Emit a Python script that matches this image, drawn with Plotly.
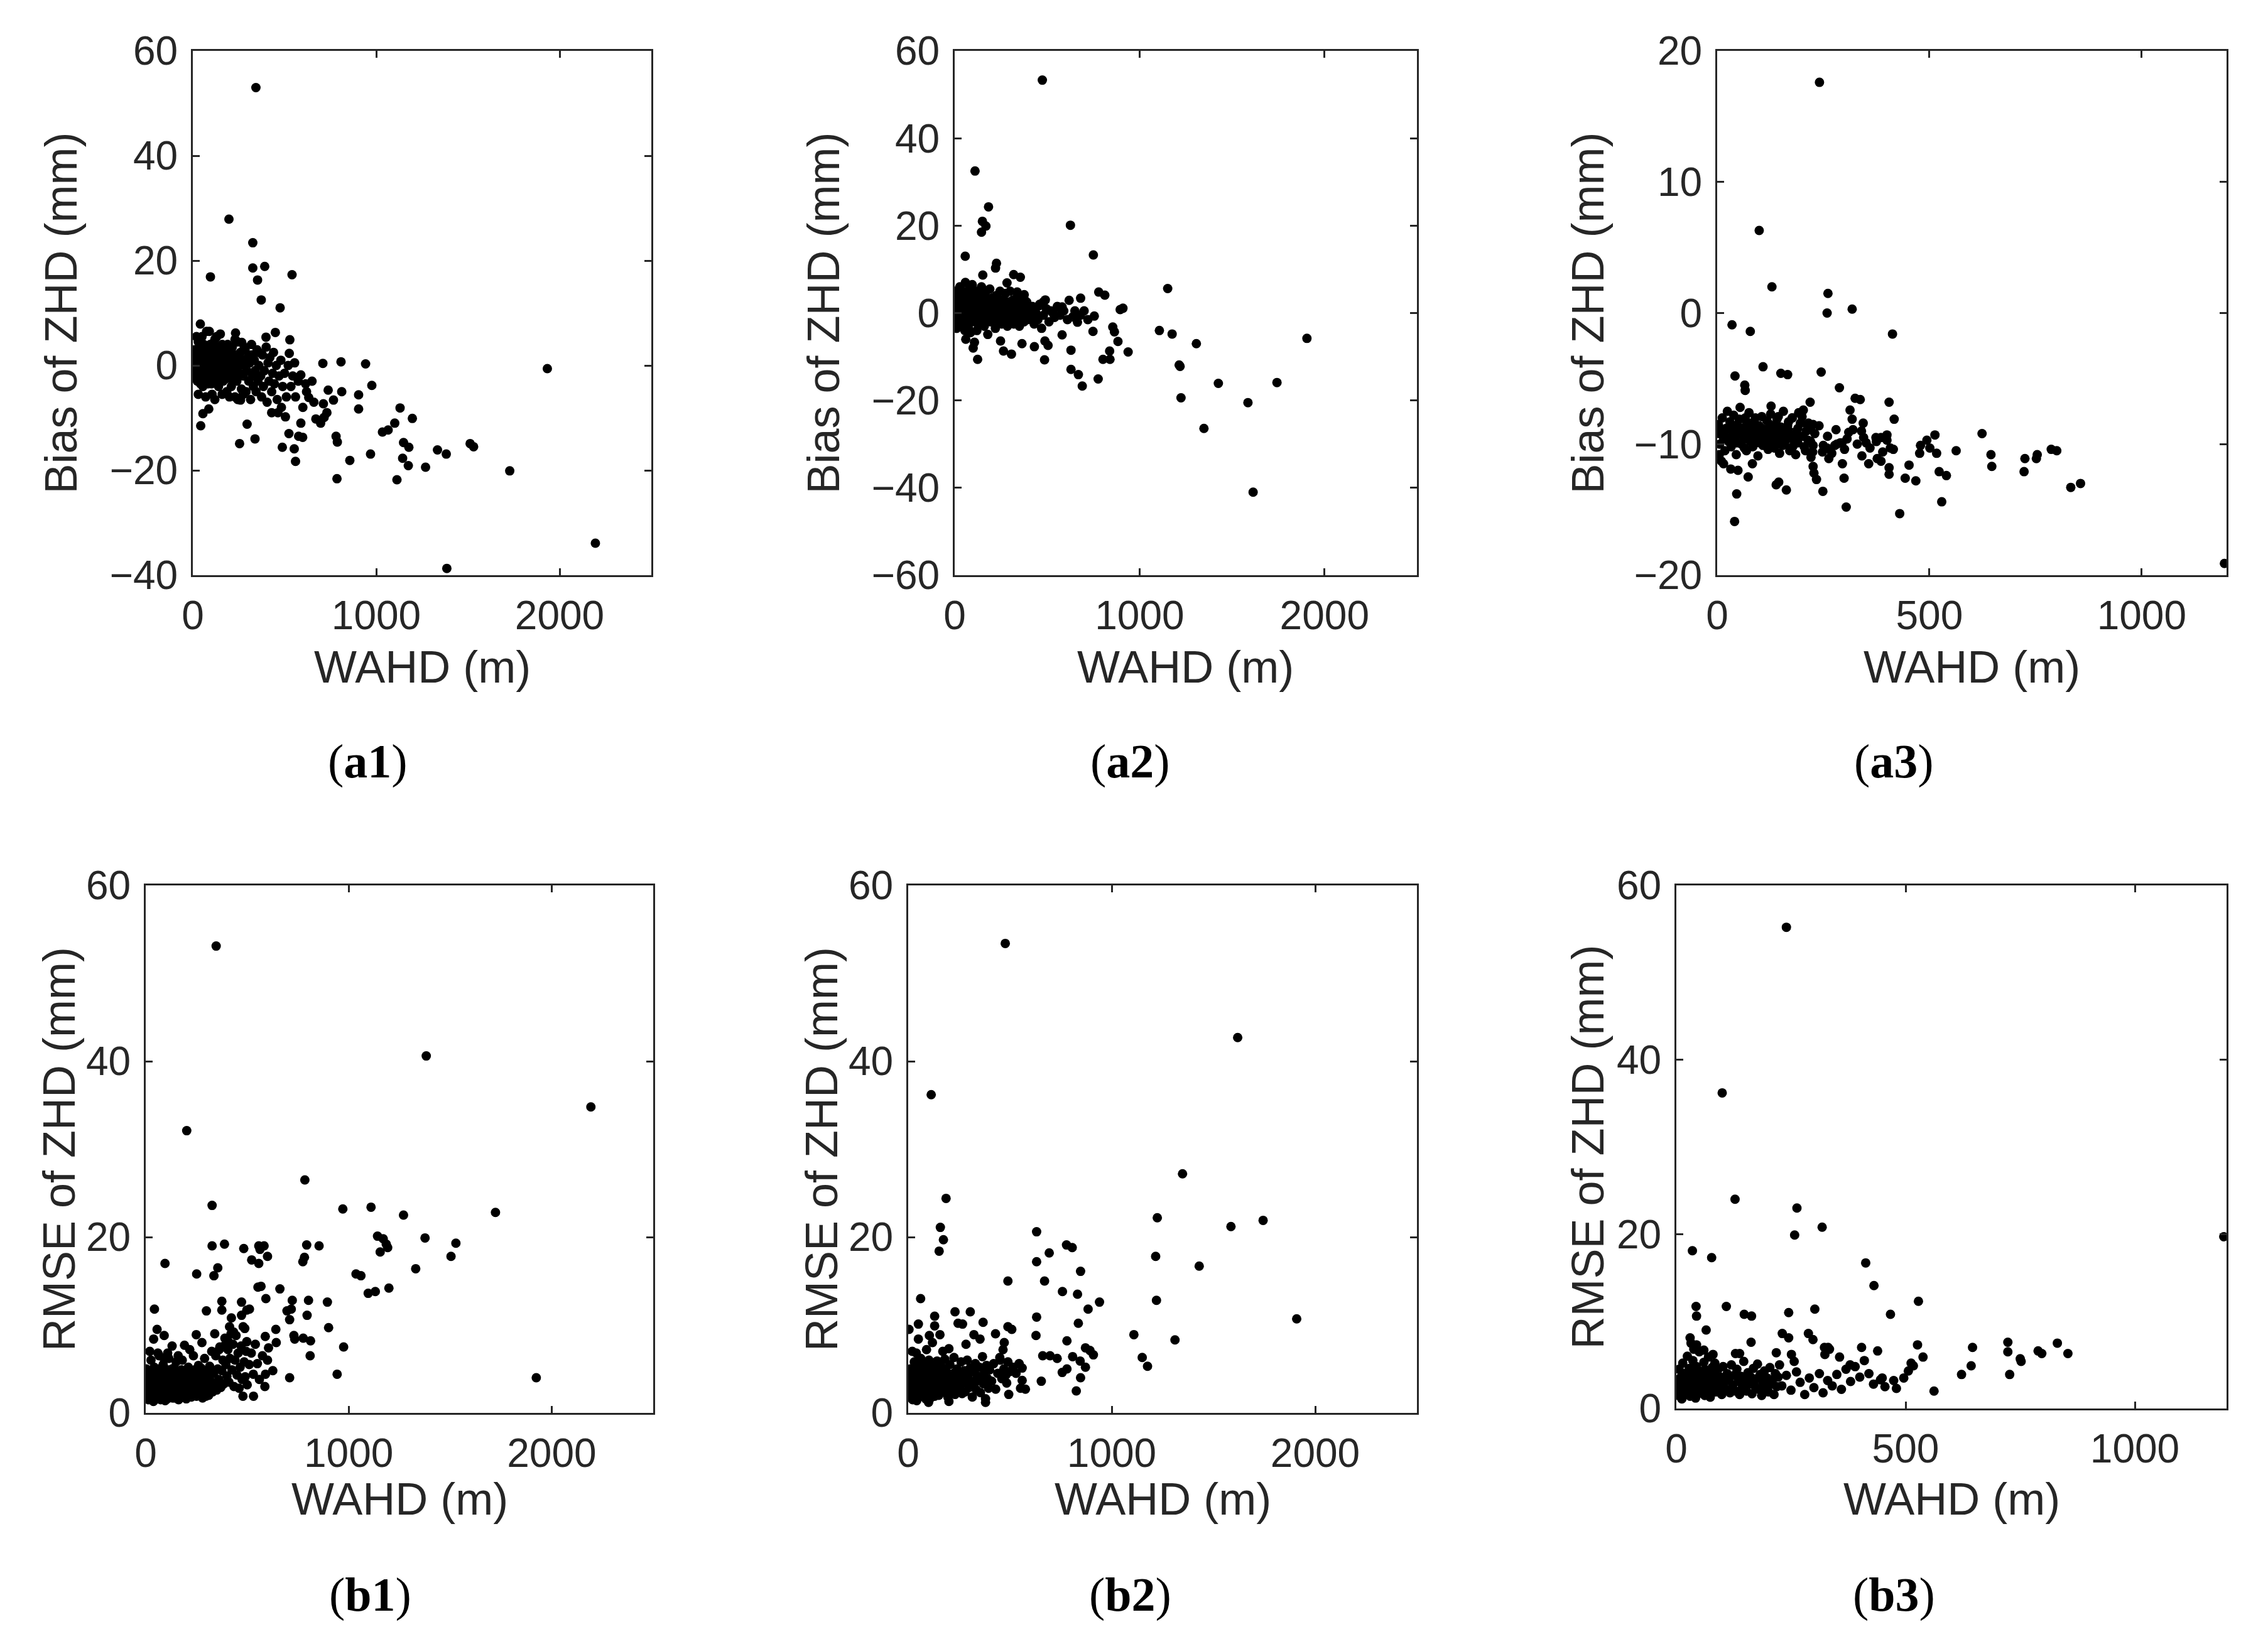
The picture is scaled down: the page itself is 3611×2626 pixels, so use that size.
import plotly.graph_objects as go

W, H = 3611, 2626
OFF = 8  # default page body margin, positions below are absolute picture pixels

# ---- data: (WAHD m, value mm) ----
a1_pts = [
    (344, 53), (197, 27.9), (327, 23.4), (327, 18.6), (392, 18.9), (353, 16.3), (96, 16.9), (541, 17.3),
    (373, 12.5), (476, 11.0), (41, 7.9), (233, 6.2), (450, 6.3), (399, 5.4), (529, 4.9), (267, 4.4),
    (709, 0.4), (808, 0.7), (942, 0.3), (1933, -0.6), (976, -3.8), (904, -5.6), (904, -8.3), (738, -4.7),
    (812, -5.0), (767, -6.6), (712, -7.3), (731, -9.0), (716, -9.9), (671, -10.2), (697, -11.0), (781, -13.5),
    (788, -14.6), (856, -18.1), (786, -21.6), (969, -16.9), (1034, -12.7), (1065, -12.3), (1101, -11.0),
    (1130, -8.1), (1197, -10.1), (1149, -14.7), (1178, -15.6), (1144, -17.7), (1175, -19.1), (1113, -21.8),
    (1269, -19.4), (1334, -16.1), (1382, -16.9), (1385, -38.7), (1512, -14.9), (1531, -15.5), (1728, -20.1),
    (2195, -33.9), (483, -8.0), (524, -13.0), (553, -15.9), (560, -18.3), (577, -13.5), (599, -13.7),
    (589, -11.0), (488, -15.6), (255, -14.9), (339, -14.0), (296, -11.2), (43, -11.5), (55, -9.2), (87, -8.3),
    (260, -6.6), (430, -9.0), (464, -9.0), (505, -9.8), (615, -3.5), (632, -6.1), (589, -1.8), (555, 0.5),
    (526, 2.3),
    (10, 3), (15, -1), (20, 1.5), (25, -3), (30, 4.5), (35, 0), (40, -2), (45, 2.5), (50, 5.5), (55, -4),
    (60, 1), (65, -1.5), (70, 3.5), (75, 6.5), (80, -0.5), (85, 2), (90, -3), (95, 4), (100, 0.5), (105, -5.5),
    (110, 2.5), (115, -1), (120, 5), (125, -2.5), (130, 1), (135, 3), (140, -4), (145, 0), (150, 2), (155, -1.5),
    (160, 4), (165, -3), (170, 1.5), (175, -0.5), (180, 3), (185, -5), (190, 0.5), (195, 2), (200, -2), (205, 1),
    (210, -4), (215, 3.5), (220, -1), (225, 0.5), (230, -6), (235, 2), (240, -3), (245, 4.5), (250, 0),
    (255, -1.5), (260, 2.5), (265, -4.5), (270, 1), (275, -2), (280, 0), (285, 3), (290, -5), (295, -1),
    (300, 1.5), (305, -3), (310, 0.5), (315, -6.5), (320, 2), (325, -2), (330, -4), (335, 1), (340, -1),
    (345, -5), (350, 3), (355, -3), (360, 0), (370, -2), (375, -6), (380, 2), (385, -4), (390, -1), (400, 3.5),
    (405, -7), (410, 0.5), (415, -3), (420, 1.5), (430, -5), (435, -1.5), (440, 2.5), (445, -3.5), (455, 0),
    (460, -6.5), (470, -2), (480, 1), (490, -4), (500, -1.5), (510, -6), (520, 0), (535, -4), (545, -2),
    (560, -6), (575, -3), (600, -8), (620, -5), (650, -3), (660, -7),
    (3, -2), (8, 0.5), (12, 2), (18, -2.5), (22, -0.5), (28, 1), (32, 3), (38, -1), (42, -3.5), (48, 0),
    (52, 2), (58, -1), (62, 3), (68, -2.5), (72, 0), (78, 1.5), (82, -3.5), (88, 0), (92, 3), (98, -1.5),
    (102, -3.5), (108, 1), (112, 4), (118, -2), (122, 0), (128, 2.5), (132, -1), (138, 1.5), (142, 3.5),
    (148, -2.5), (152, 0), (158, 1), (162, -1), (168, -2), (172, 3), (178, 0.5), (182, -2.5), (188, 1.5),
    (192, -1), (198, 3), (202, 0), (208, -2.5), (212, 1.5), (218, -1.5), (222, 2), (228, 0), (232, -2),
    (238, 1), (242, -1), (248, 2),
    (30, -5.5), (70, -6), (120, -6.5), (160, -5.5), (200, -6), (245, -6.5), (275, -5.5),
    (20, 5.5), (60, 4), (90, 6.5), (130, 5.5), (150, 6), (190, 4), (230, 5), (280, 3.5), (320, 4), (360, 2.5),
]

a2_pts = [
    (474, 53.3), (110, 32.5), (183, 24.3), (150, 21.0), (169, 19.9), (145, 18.5), (626, 20.1), (750, 13.3),
    (57, 13.0), (226, 11.4), (221, 10.3), (152, 8.7), (319, 8.8), (355, 8.2), (283, 6.9), (1152, 5.6),
    (779, 4.8), (812, 4.1), (681, 3.4), (619, 2.9), (910, 1.1), (895, 0.8), (1107, -4.0), (1176, -4.8),
    (1307, -7.0), (1905, -5.8), (1214, -11.9), (1219, -12.2), (1224, -19.4), (1348, -26.4), (1426, -16.1),
    (1743, -15.9), (1586, -20.5), (1614, -41.0), (938, -8.9), (883, -6.5), (864, -4.3), (855, -3.2),
    (840, -10.6), (802, -10.6), (838, -8.7), (776, -15.1), (690, -16.7), (669, -14.1), (629, -12.9),
    (629, -8.5), (748, -4.2), (755, -0.7), (486, -10.7), (431, -7.7), (364, -7.0), (307, -9.4), (264, -8.7),
    (248, -6.4), (179, -4.9), (124, -10.6), (100, -8.0), (107, -6.7), (505, -7.4), (488, -6.4), (581, -5.0),
    (664, -2.1), (638, -0.9), (560, 1.4), (581, 1.4), (533, -0.1), (479, 2.5), (490, 3.0), (457, 1.7),
    (376, 4.2), (338, 4.8),
    (5, 2), (8, -1), (12, 4.5), (15, 0.5), (18, -2.5), (22, 3), (25, 1), (28, 6), (32, -0.5), (35, 2.5),
    (38, -3), (42, 5), (45, 0), (48, 1.5), (52, -2), (55, 3.5), (58, 7), (62, 0.5), (65, -1), (68, 4), (72, 2),
    (75, -3.5), (78, 5.5), (82, 1), (85, -0.5), (88, 3), (92, -2), (95, 6.5), (98, 1.5), (102, 4), (105, -1.5),
    (110, 0), (115, 2.5), (120, 5), (125, -2.5), (130, 1), (135, 3.5), (140, -1), (145, 6), (150, 0.5),
    (155, 2), (160, -3), (165, 4.5), (170, 1), (175, -1.5), (180, 3), (185, 0), (190, 5.5), (195, -2),
    (200, 1.5), (205, 3.5), (210, -0.5), (215, 2), (220, -3.5), (225, 4), (230, 0.5), (235, 2.5), (240, -1.5),
    (245, 5), (250, 1), (255, -2.5), (260, 3), (265, 0), (270, -1), (275, 4.5), (280, 1.5), (285, -3),
    (290, 2.5), (295, 0), (300, 5), (305, -1.5), (310, 1), (315, 3), (320, -2.5), (325, 0.5), (330, 2),
    (335, -1), (340, 4), (345, 0), (350, -3), (355, 1.5), (360, -1.5), (365, 3), (370, 0), (375, -2),
    (380, 1.5), (385, -0.5), (390, 2.5), (395, -1.5), (400, 0.5), (410, -1), (420, 1.5), (430, -2.5),
    (440, 0), (450, -1.5), (460, 2), (470, -3.5), (480, -0.5), (495, 1), (510, -2), (520, 0.5), (540, -1),
    (555, 1.5), (570, -0.5), (590, 0.5), (610, -1.5), (650, 0.5), (680, -0.5), (700, 0.5), (720, -1.5),
    (3, 5), (10, 1.5), (20, -1), (30, 3.5), (40, 1), (50, 4.5), (60, -1.5), (70, 2.5), (80, -2), (90, 4.5),
    (100, 0), (108, 2.5), (118, -0.5), (128, 3), (138, 0.5), (148, -1.5), (158, 2.5), (168, -0.5), (178, 1.5),
    (188, 3), (198, -0.5), (208, 2.5), (218, 0.5), (228, -1.5), (238, 3), (248, -0.5), (258, 1.5), (268, 2.5),
    (278, -1.5), (288, 0.5), (298, 2.5), (308, -0.5), (318, 1), (328, -1.5), (338, 1.5), (348, 2.5),
    (358, -0.5), (368, 1), (378, 3), (388, 0.5),
    (10, -3.5), (30, -3), (55, -4), (85, -4.5), (120, -4), (60, -6),
]

a3_pts = [
    (241, 17.6), (99, 6.3), (129, 2.0), (261, 1.5), (259, 0.0), (318, 0.3), (35, -0.9), (78, -1.4),
    (413, -1.6), (108, -4.1), (42, -4.8), (150, -4.6), (166, -4.7), (245, -4.5), (65, -5.5), (66, -5.9),
    (288, -5.7), (325, -6.5), (337, -6.6), (219, -6.8), (405, -6.8), (417, -8.1), (313, -7.4), (318, -8.1),
    (344, -8.4), (624, -9.2), (513, -9.3), (494, -9.7), (479, -10.1), (477, -10.7), (501, -10.3),
    (517, -10.7), (563, -10.5), (645, -10.8), (647, -11.7), (725, -11.1), (723, -12.1), (754, -10.8),
    (752, -11.1), (787, -10.4), (800, -10.5), (833, -13.3), (856, -13.0), (1195, -19.1), (452, -11.6),
    (468, -12.8), (443, -12.6), (523, -12.1), (540, -12.4), (529, -14.4), (430, -15.3), (304, -14.8),
    (249, -13.6), (299, -12.6), (234, -12.7), (139, -13.1), (145, -12.9), (163, -13.5), (46, -13.8),
    (41, -15.9), (73, -12.5), (49, -12.0), (32, -11.9), (83, -11.5), (15, -11.5), (226, -11.7), (228, -12.2),
    (357, -11.5), (377, -11.1), (386, -11.3), (405, -11.8), (405, -12.3), (320, -8.9), (306, -9.6),
    (282, -10.0), (340, -9.0), (374, -9.5), (386, -9.5), (400, -9.7), (408, -10.3), (415, -10.4),
    (341, -10.9), (351, -9.9), (259, -10.3), (277, -10.1), (294, -9.9), (263, -11.1), (248, -10.6),
    (295, -11.5), (221, -11.0), (211, -8.5), (226, -8.5), (192, -7.6), (203, -7.4), (177, -8.0), (127, -7.1),
    (144, -7.9),
    (3, -8.5), (6, -10), (9, -9), (12, -8), (15, -9.5), (18, -10.5), (21, -8.8), (24, -7.5), (27, -9.8),
    (30, -8.3), (33, -10.2), (36, -9), (39, -7.8), (42, -9.5), (45, -10.8), (48, -8.5), (51, -9.2), (54, -7.2),
    (57, -10), (60, -8.8), (63, -9.6), (66, -8), (69, -10.5), (72, -9), (75, -7.6), (78, -9.8), (81, -8.4),
    (84, -10.2), (87, -9.1), (90, -8), (93, -9.7), (96, -10.9), (99, -8.6), (102, -9.3), (105, -7.9),
    (108, -10.1), (111, -8.9), (114, -9.6), (117, -8.2), (120, -10.4), (123, -9), (126, -7.7), (129, -9.5),
    (132, -8.6), (135, -10.3), (138, -9.2), (141, -8.1), (144, -9.8), (147, -10.7), (150, -8.7), (153, -9.4),
    (156, -7.5), (159, -10), (162, -8.9), (165, -9.6), (168, -8.3), (171, -10.5), (174, -9.1), (177, -8),
    (180, -9.7), (185, -10.8), (190, -8.8), (195, -9.4), (200, -7.9), (205, -10.2), (210, -9), (215, -8.4),
    (220, -9.8), (225, -10.6), (230, -9.2), (240, -8.6), (250, -10.1), (260, -9.4), (270, -10.7), (280, -8.9),
    (290, -9.9), (300, -10.4), (310, -9.1), (330, -10), (345, -9.5), (360, -10.3), (375, -9.8), (390, -10.6),
    (400, -9.3),
    (4, -9.2), (10, -8.9), (16, -9.1), (22, -9.6), (28, -8.7), (34, -9.4), (40, -8.9), (46, -9.9), (52, -8.1),
    (58, -9.3), (64, -10.3), (70, -8.4), (76, -9.4), (82, -9.9), (88, -8.6), (94, -9.1), (100, -9.9),
    (106, -8.8), (112, -10), (118, -9.1), (124, -8.5), (130, -9.9), (136, -9.3), (142, -8.7), (148, -9.2),
    (154, -10.1), (160, -9.3), (166, -8.6), (172, -9.2), (178, -10.2), (184, -9.1), (190, -9.9), (196, -8.4),
    (202, -9.4), (208, -10.5), (214, -9.7), (220, -8.9), (226, -10.1), (10, -11.3), (5, -10.8),
]

b1_pts = [
    (347, 53.1), (1382, 40.6), (2193, 34.8), (202, 32.1), (784, 26.5), (327, 23.6), (971, 23.2), (1110, 23.4),
    (1270, 22.5), (1723, 22.8), (1142, 20.1), (1170, 19.8), (1185, 19.2), (1155, 18.3), (1192, 18.8),
    (1376, 19.9), (1528, 19.3), (1504, 17.8), (1330, 16.4), (1036, 15.8), (1060, 15.6), (1096, 13.6),
    (1131, 13.8), (1198, 14.2), (854, 19.0), (774, 17.2), (782, 17.7), (793, 19.1), (388, 19.2), (327, 19.0),
    (355, 16.5), (336, 15.6), (483, 18.7), (522, 17.4), (557, 17.0), (557, 19.0), (583, 19.0), (563, 18.6),
    (600, 17.8), (251, 15.8), (95, 17.0), (375, 12.7), (375, 11.7), (472, 12.6), (592, 13.0), (553, 14.3),
    (568, 14.4), (661, 14.1), (722, 12.8), (717, 11.8), (802, 12.8), (895, 12.6), (901, 9.7), (795, 11.1),
    (696, 11.6), (709, 10.6), (641, 9.5), (643, 8.0), (600, 6.0), (589, 8.7), (776, 8.5), (730, 8.8),
    (734, 8.4), (812, 8.2), (810, 6.5), (975, 7.5), (943, 4.4), (1924, 4.0), (709, 4.0), (626, 4.8),
    (587, 3.0), (479, 1.9), (531, 1.9), (299, 11.6), (43, 11.8), (56, 9.5), (39, 8.4), (91, 8.8), (108, 6.8),
    (191, 7.7), (217, 7.2), (249, 8.9), (277, 8.0), (340, 9.0), (422, 10.8), (413, 9.8), (433, 9.2),
    (472, 11.1), (498, 11.7), (511, 11.8), (488, 9.6), (498, 8.1), (362, 7.2), (390, 7.7), (407, 8.1),
    (20, 7), (60, 6.8), (130, 7.6), (160, 6.5), (90, 6.2),
    (3, 5), (6, 2.5), (10, 3.5), (14, 1.5), (18, 4.5), (22, 2.8), (26, 6), (30, 2), (34, 3.8), (38, 1.3),
    (42, 5.2), (46, 2.6), (50, 3.4), (54, 1.8), (58, 4.8), (62, 2.2), (66, 6.5), (70, 3), (74, 1.5), (78, 4),
    (82, 2.5), (86, 5.5), (90, 1.8), (94, 3.6), (98, 2.3), (102, 4.6), (106, 1.6), (110, 3.2), (114, 6.2),
    (118, 2.4), (122, 3.8), (126, 1.9), (130, 5), (134, 2.8), (138, 4.2), (142, 1.7), (146, 3.5), (150, 5.8),
    (154, 2.2), (158, 3.9), (162, 1.5), (166, 4.7), (170, 2.6), (175, 3.3), (180, 6), (185, 2), (190, 4.1),
    (195, 2.9), (200, 1.6), (205, 3.7), (210, 5.2), (215, 2.4), (220, 4.4), (225, 1.8), (230, 3.2), (235, 6.5),
    (240, 2.7), (245, 4), (250, 1.9), (255, 3.6), (260, 5.4), (265, 2.3), (270, 4.3), (275, 2.9), (280, 1.7),
    (285, 3.8), (290, 6.2), (295, 2.5), (300, 4.6), (305, 3.1), (310, 2), (315, 5.3), (320, 3.6), (325, 7),
    (330, 2.4), (335, 4.5), (340, 3.2), (345, 6.5), (350, 2.6), (355, 5), (360, 3.8), (365, 7.5), (370, 2.9),
    (375, 4.8), (380, 6), (385, 3.3), (390, 8.5), (395, 5.5), (400, 4.2), (405, 7.2), (410, 3.5), (415, 6.2),
    (420, 9), (425, 4.9), (430, 7.8), (435, 3), (440, 6), (445, 8.8), (450, 4.3), (455, 6.8), (460, 2.8),
    (465, 5.2), (470, 7.6), (475, 3.8), (480, 9.8), (485, 5.8), (490, 4.1), (495, 7), (500, 3.2), (510, 5.5),
    (520, 6.8), (530, 4.4), (540, 7.8), (550, 5.6), (560, 3.8), (575, 6.5), (590, 4.4), (605, 7.4),
    (2, 3), (8, 2), (12, 4.2), (16, 2.3), (20, 3.3), (24, 1.8), (28, 4.2), (32, 2.9), (36, 5), (40, 3.1),
    (44, 1.9), (48, 4.3), (52, 2.7), (56, 3.8), (60, 1.6), (64, 3.4), (68, 4.4), (72, 2.1), (76, 5.1),
    (80, 3.2), (84, 1.9), (88, 4.3), (92, 2.9), (96, 1.4), (100, 3.7), (104, 2.6), (108, 4.9), (112, 2),
    (116, 3.4), (120, 4.5), (124, 2.5), (128, 3.7), (132, 1.7), (136, 3.1), (140, 5.1), (144, 2.3), (148, 4),
    (152, 3.1), (156, 1.8), (160, 4.4), (164, 2.9), (168, 3.7), (172, 2.1), (176, 4.9), (182, 3.2), (188, 2.4),
    (194, 4.3), (200, 3.3), (206, 2.2), (212, 3.9), (218, 2.9), (224, 4.8), (230, 2.1), (236, 3.7), (242, 4.9),
    (248, 2.6), (254, 3.4), (260, 2.2), (266, 3.8), (272, 5.1), (278, 2.5), (284, 3.4), (290, 4.3), (296, 1.9),
    (302, 3.5), (308, 4.5), (314, 2.6),
]

b2_pts = [
    (477, 53.4), (1619, 42.7), (113, 36.2), (1348, 27.2), (186, 24.4), (1224, 22.2), (1744, 21.9),
    (1586, 21.2), (158, 21.1), (173, 19.7), (152, 18.4), (631, 20.6), (1216, 17.8), (631, 17.2), (693, 18.2),
    (778, 19.1), (806, 18.8), (847, 16.1), (1430, 16.7), (670, 15.0), (490, 15.0), (758, 13.8), (832, 13.5),
    (940, 12.6), (1220, 12.8), (884, 11.8), (61, 13.0), (1909, 10.7), (631, 10.9), (836, 10.2), (1109, 8.9),
    (1311, 8.3), (780, 8.2), (628, 8.8), (1150, 6.3), (1176, 5.3), (871, 7.4), (893, 7.1), (910, 6.6),
    (808, 6.4), (845, 5.9), (871, 5.2), (847, 4.0), (826, 2.5), (780, 5.0), (757, 4.6), (654, 3.6),
    (661, 6.5), (697, 6.5), (732, 6.2), (576, 2.7), (552, 2.8), (494, 2.1), (484, 3.4), (453, 6.0),
    (466, 7.2), (472, 8.0), (490, 9.8), (509, 9.5), (429, 9.0), (368, 10.3), (323, 8.9), (353, 8.4),
    (267, 10.1), (284, 7.8), (305, 11.5), (230, 11.5), (245, 10.2), (130, 11.0), (130, 9.9), (156, 8.9),
    (119, 8.0), (50, 10.1), (4, 9.5), (50, 8.4), (104, 8.8), (20, 7), (40, 6.8), (90, 7.2), (170, 7),
    (200, 7.3), (380, 1.2), (200, 1.3), (100, 1.2), (560, 3.7),
    (3, 3.5), (6, 1.8), (10, 5), (14, 2.6), (18, 4.2), (22, 1.5), (26, 3.3), (30, 5.8), (34, 2.2), (38, 4),
    (42, 1.4), (46, 3), (50, 5.2), (54, 2.4), (58, 3.8), (62, 6.2), (66, 1.9), (70, 4.6), (74, 2.8), (78, 3.6),
    (82, 5.5), (86, 1.6), (90, 3.2), (94, 4.8), (98, 2.3), (102, 6), (106, 3.9), (110, 1.7), (114, 4.4),
    (118, 2.9), (122, 5.3), (126, 3.4), (130, 1.9), (134, 4.1), (138, 2.6), (142, 5.9), (146, 3.6), (150, 2),
    (155, 4.6), (160, 3.1), (165, 5.2), (170, 2.4), (175, 3.9), (180, 6.1), (185, 2.8), (190, 4.4), (195, 1.8),
    (200, 3.5), (205, 5.5), (210, 2.7), (215, 4.2), (220, 3.3), (225, 6.3), (230, 2.1), (235, 3.8), (240, 5),
    (245, 2.6), (250, 4.4), (255, 3.2), (260, 5.8), (265, 2.2), (270, 3.7), (275, 4.8), (280, 2.4), (285, 3.5),
    (290, 6), (295, 4.3), (300, 2.9), (305, 5.1), (310, 3.6), (315, 1.8), (320, 4.7), (325, 3.3), (330, 5.6),
    (335, 2.6), (340, 4.2), (345, 3.7), (350, 5.2), (355, 2.3), (360, 4), (365, 6.4), (370, 3.3), (375, 4.6),
    (380, 1.6), (385, 5.4), (390, 3.9), (395, 2.8), (400, 4.9), (410, 3.6), (420, 5.6), (430, 2.7), (440, 4.5),
    (450, 6.3), (460, 3.9), (470, 5), (480, 4.3), (490, 5.8), (500, 4.7), (515, 5.2), (530, 4.5), (545, 5.6),
    (560, 5.1),
    (2, 4.5), (8, 3.1), (12, 2.2), (16, 3.6), (20, 2.9), (24, 4.7), (28, 2.4), (32, 3.9), (36, 5), (40, 2.9),
    (44, 3.7), (48, 2), (52, 4.3), (56, 3.1), (60, 4.9), (64, 2.7), (68, 3.5), (72, 5.6), (76, 2), (80, 4.2),
    (84, 3.1), (88, 5), (92, 2.5), (96, 3.7), (100, 4.4), (104, 2.8), (108, 3.4), (112, 5.4), (116, 2.2),
    (120, 3.8), (124, 4.7), (128, 2.9), (132, 3.6), (136, 5.1), (140, 2.1), (144, 3.9), (148, 4.6), (152, 2.8),
    (158, 3.7), (164, 4.4), (172, 3.2), (178, 4.9), (184, 3.5), (190, 2.3), (196, 4.5), (202, 2.9), (208, 4.1),
    (216, 3.2), (224, 4.5), (232, 3.1), (240, 3.9), (248, 2.9), (256, 4.1), (264, 3.3),
]

b3_pts = [
    (240, 55.2), (100, 36.2), (128, 24.0), (263, 23.0), (258, 19.9), (318, 20.8), (1194, 19.7), (35, 18.1),
    (77, 17.3), (413, 16.7), (431, 14.1), (528, 12.3), (467, 10.8), (245, 11.0), (302, 11.4),
    (32, 7.5), (44, 7.3), (43, 11.7), (44, 10.6), (65, 9), (30, 8.1), (38, 6.8), (60, 6.7), (80, 6.2),
    (129, 6.3), (138, 6.3), (163, 7.6), (109, 11.7), (148, 10.8), (164, 10.6), (218, 6.4), (231, 8.6),
    (245, 8.1), (251, 6.2), (257, 5.4), (288, 8.6), (298, 7.9), (323, 7.0), (334, 6.8), (324, 6.2), (331, 7.0),
    (356, 5.9), (379, 5.0), (404, 7.0), (439, 6.6), (449, 3.5), (474, 3.2), (480, 2.3), (496, 3.5), (506, 4.3),
    (512, 5.2), (517, 4.9), (526, 7.3), (538, 5.9), (562, 2.0), (622, 3.9), (643, 4.9), (646, 7.0), (723, 7.6),
    (723, 6.5), (727, 3.9), (750, 5.7), (752, 5.4), (789, 6.6), (797, 6.3), (831, 7.5), (854, 6.3),
    (2, 3), (4, 1.5), (6, 4.5), (8, 2.2), (10, 3.6), (12, 1.1), (14, 5.2), (16, 2.8), (18, 4), (20, 1.7),
    (22, 3.3), (24, 6), (26, 2.4), (28, 4.6), (30, 1.4), (32, 3.8), (34, 2.9), (36, 5.5), (38, 2), (40, 3.4),
    (42, 1.2), (44, 4.8), (46, 2.6), (48, 3.7), (50, 6.5), (52, 1.8), (54, 4.2), (56, 2.7), (58, 3.5),
    (60, 5.3), (62, 1.5), (64, 3.1), (66, 4.4), (68, 2.3), (70, 5.9), (72, 3.7), (74, 1.3), (76, 2.9),
    (78, 4.7), (80, 2.1), (82, 3.9), (84, 5.2), (86, 1.9), (88, 3.3), (90, 4.4), (93, 2.5), (96, 3.6),
    (99, 1.6), (102, 4.8), (105, 3), (108, 2.2), (111, 4), (114, 3.3), (117, 1.8), (120, 5), (123, 2.7),
    (126, 3.8), (129, 2), (132, 4.5), (135, 3.1), (138, 1.6), (141, 3.7), (144, 2.5), (147, 5.4), (150, 3.2),
    (153, 2), (156, 4.1), (159, 2.8), (162, 3.6), (165, 1.7), (168, 4.6), (171, 2.6), (174, 3.4), (177, 5.1),
    (180, 2.2), (183, 3.9), (186, 1.5), (189, 3), (192, 4.3), (195, 2.4), (198, 3.5), (201, 1.9), (204, 4.7),
    (207, 2.8), (210, 3.3), (213, 1.6), (216, 4), (219, 2.5), (222, 3.6), (225, 5),
    (3, 2.3), (7, 3.4), (11, 2.6), (15, 3.9), (19, 2.9), (23, 1.9), (27, 3.3), (31, 4.1), (35, 2), (39, 4.3),
    (43, 2.9), (47, 1.7), (51, 3.4), (55, 2.1), (59, 4.3), (63, 2.6), (67, 3.6), (71, 1.9), (75, 4.2),
    (79, 3.2), (83, 2.4), (87, 4.6), (91, 3.1),
    (230, 2.6), (240, 3.8), (250, 2.1), (262, 4.2), (270, 3), (280, 1.6), (290, 3.5), (300, 2.4), (312, 4),
    (320, 1.8), (330, 3.2), (340, 2.6), (350, 3.9), (360, 2.2), (370, 4.5), (380, 3.1), (390, 4.8), (400, 3.6),
    (410, 5.5), (420, 4), (430, 2.8), (445, 3.3), (455, 2.5),
]

# ---- panel setup (pixel boxes measured on the reference picture) ----
AX = '#262626'
panels = [
    dict(pts=a1_pts, xr=[0, 2500], xt=[0, 1000, 2000], yr=[-40, 60], yt=[-40, -20, 0, 20, 40, 60],
         ytitle='Bias of ZHD (mm)', label='a1', box=(307, 1037, 81, 916), ytx=96, lab=(585, 1212), xty=1062),
    dict(pts=a2_pts, xr=[0, 2500], xt=[0, 1000, 2000], yr=[-60, 60], yt=[-60, -40, -20, 0, 20, 40, 60],
         ytitle='Bias of ZHD (mm)', label='a2', box=(1520, 2256, 81, 916), ytx=1310, lab=(1799, 1212), xty=1062),
    dict(pts=a3_pts, xr=[0, 1200], xt=[0, 500, 1000], yr=[-20, 20], yt=[-20, -10, 0, 10, 20],
         ytitle='Bias of ZHD (mm)', label='a3', box=(2734, 3545, 81, 916), ytx=2527, lab=(3015, 1212), xty=1062),
    dict(pts=b1_pts, xr=[0, 2500], xt=[0, 1000, 2000], yr=[0, 60], yt=[0, 20, 40, 60],
         ytitle='RMSE of ZHD (mm)', label='b1', box=(232, 1040, 1410, 2250), ytx=94, lab=(589, 2539), xty=2387),
    dict(pts=b2_pts, xr=[0, 2500], xt=[0, 1000, 2000], yr=[0, 60], yt=[0, 20, 40, 60],
         ytitle='RMSE of ZHD (mm)', label='b2', box=(1446, 2256, 1410, 2250), ytx=1308, lab=(1799, 2539), xty=2387),
    dict(pts=b3_pts, xr=[0, 1200], xt=[0, 500, 1000], yr=[0, 60], yt=[0, 20, 40, 60],
         ytitle='RMSE of ZHD (mm)', label='b3', box=(2669, 3545, 1410, 2243), ytx=2527, lab=(3015, 2539), xty=2387),
]


def fmt(v):
    return f'\u2212{abs(v)}' if v < 0 else str(v)


def px(x):
    return (x - OFF) / W


def py(y):
    return 1 - (y - OFF) / H


fig = go.Figure()
annotations = []
axis_style = dict(
    showgrid=False, zeroline=False, showline=True, mirror='ticks', linecolor=AX, linewidth=3,
    ticks='inside', ticklen=11, tickwidth=3, tickcolor=AX, automargin=False,
    tickfont=dict(family='Liberation Sans, Arial', size=64, color=AX),
)
title_font = dict(family='Liberation Sans, Arial', size=72, color=AX)

for i, p in enumerate(panels, start=1):
    sfx = '' if i == 1 else str(i)
    xs = [pt[0] for pt in p['pts']]
    ys = [pt[1] for pt in p['pts']]
    fig.add_trace(go.Scatter(
        x=xs, y=ys, mode='markers', xaxis='x' + sfx, yaxis='y' + sfx,
        marker=dict(color='black', size=15), showlegend=False,
    ))
    l, r, t, b = p['box']
    fig.layout['xaxis' + sfx] = dict(
        axis_style, domain=[px(l), px(r)], range=p['xr'], tickvals=p['xt'],
        ticktext=[fmt(v) for v in p['xt']], anchor='y' + sfx, ticklabelstandoff=6,
    )
    fig.layout['yaxis' + sfx] = dict(
        axis_style, domain=[py(b), py(t)], range=p['yr'], tickvals=p['yt'],
        ticktext=[fmt(v) for v in p['yt']], anchor='x' + sfx, ticklabelstandoff=8,
    )
    annotations.append(dict(
        text='WAHD (m)', x=px((l + r) / 2), y=py(p['xty']), xref='paper', yref='paper',
        xanchor='center', yanchor='middle', showarrow=False, font=title_font,
    ))
    annotations.append(dict(
        text=p['ytitle'], x=px(p['ytx']), y=py((t + b) / 2), xref='paper', yref='paper',
        xanchor='center', yanchor='middle', showarrow=False, textangle=-90, font=title_font,
    ))
    annotations.append(dict(
        text='(<b>' + p['label'] + '</b>)', x=px(p['lab'][0]), y=py(p['lab'][1]),
        xref='paper', yref='paper', xanchor='center', yanchor='middle', showarrow=False,
        font=dict(family='Liberation Serif, Times New Roman, serif', size=76, color='black'),
    ))

fig.update_layout(
    template='none',
    width=W, height=H, margin=dict(l=0, r=0, t=0, b=0, pad=0, autoexpand=False),
    paper_bgcolor='white', plot_bgcolor='white', annotations=annotations,
)

fig.write_html('out.html')
